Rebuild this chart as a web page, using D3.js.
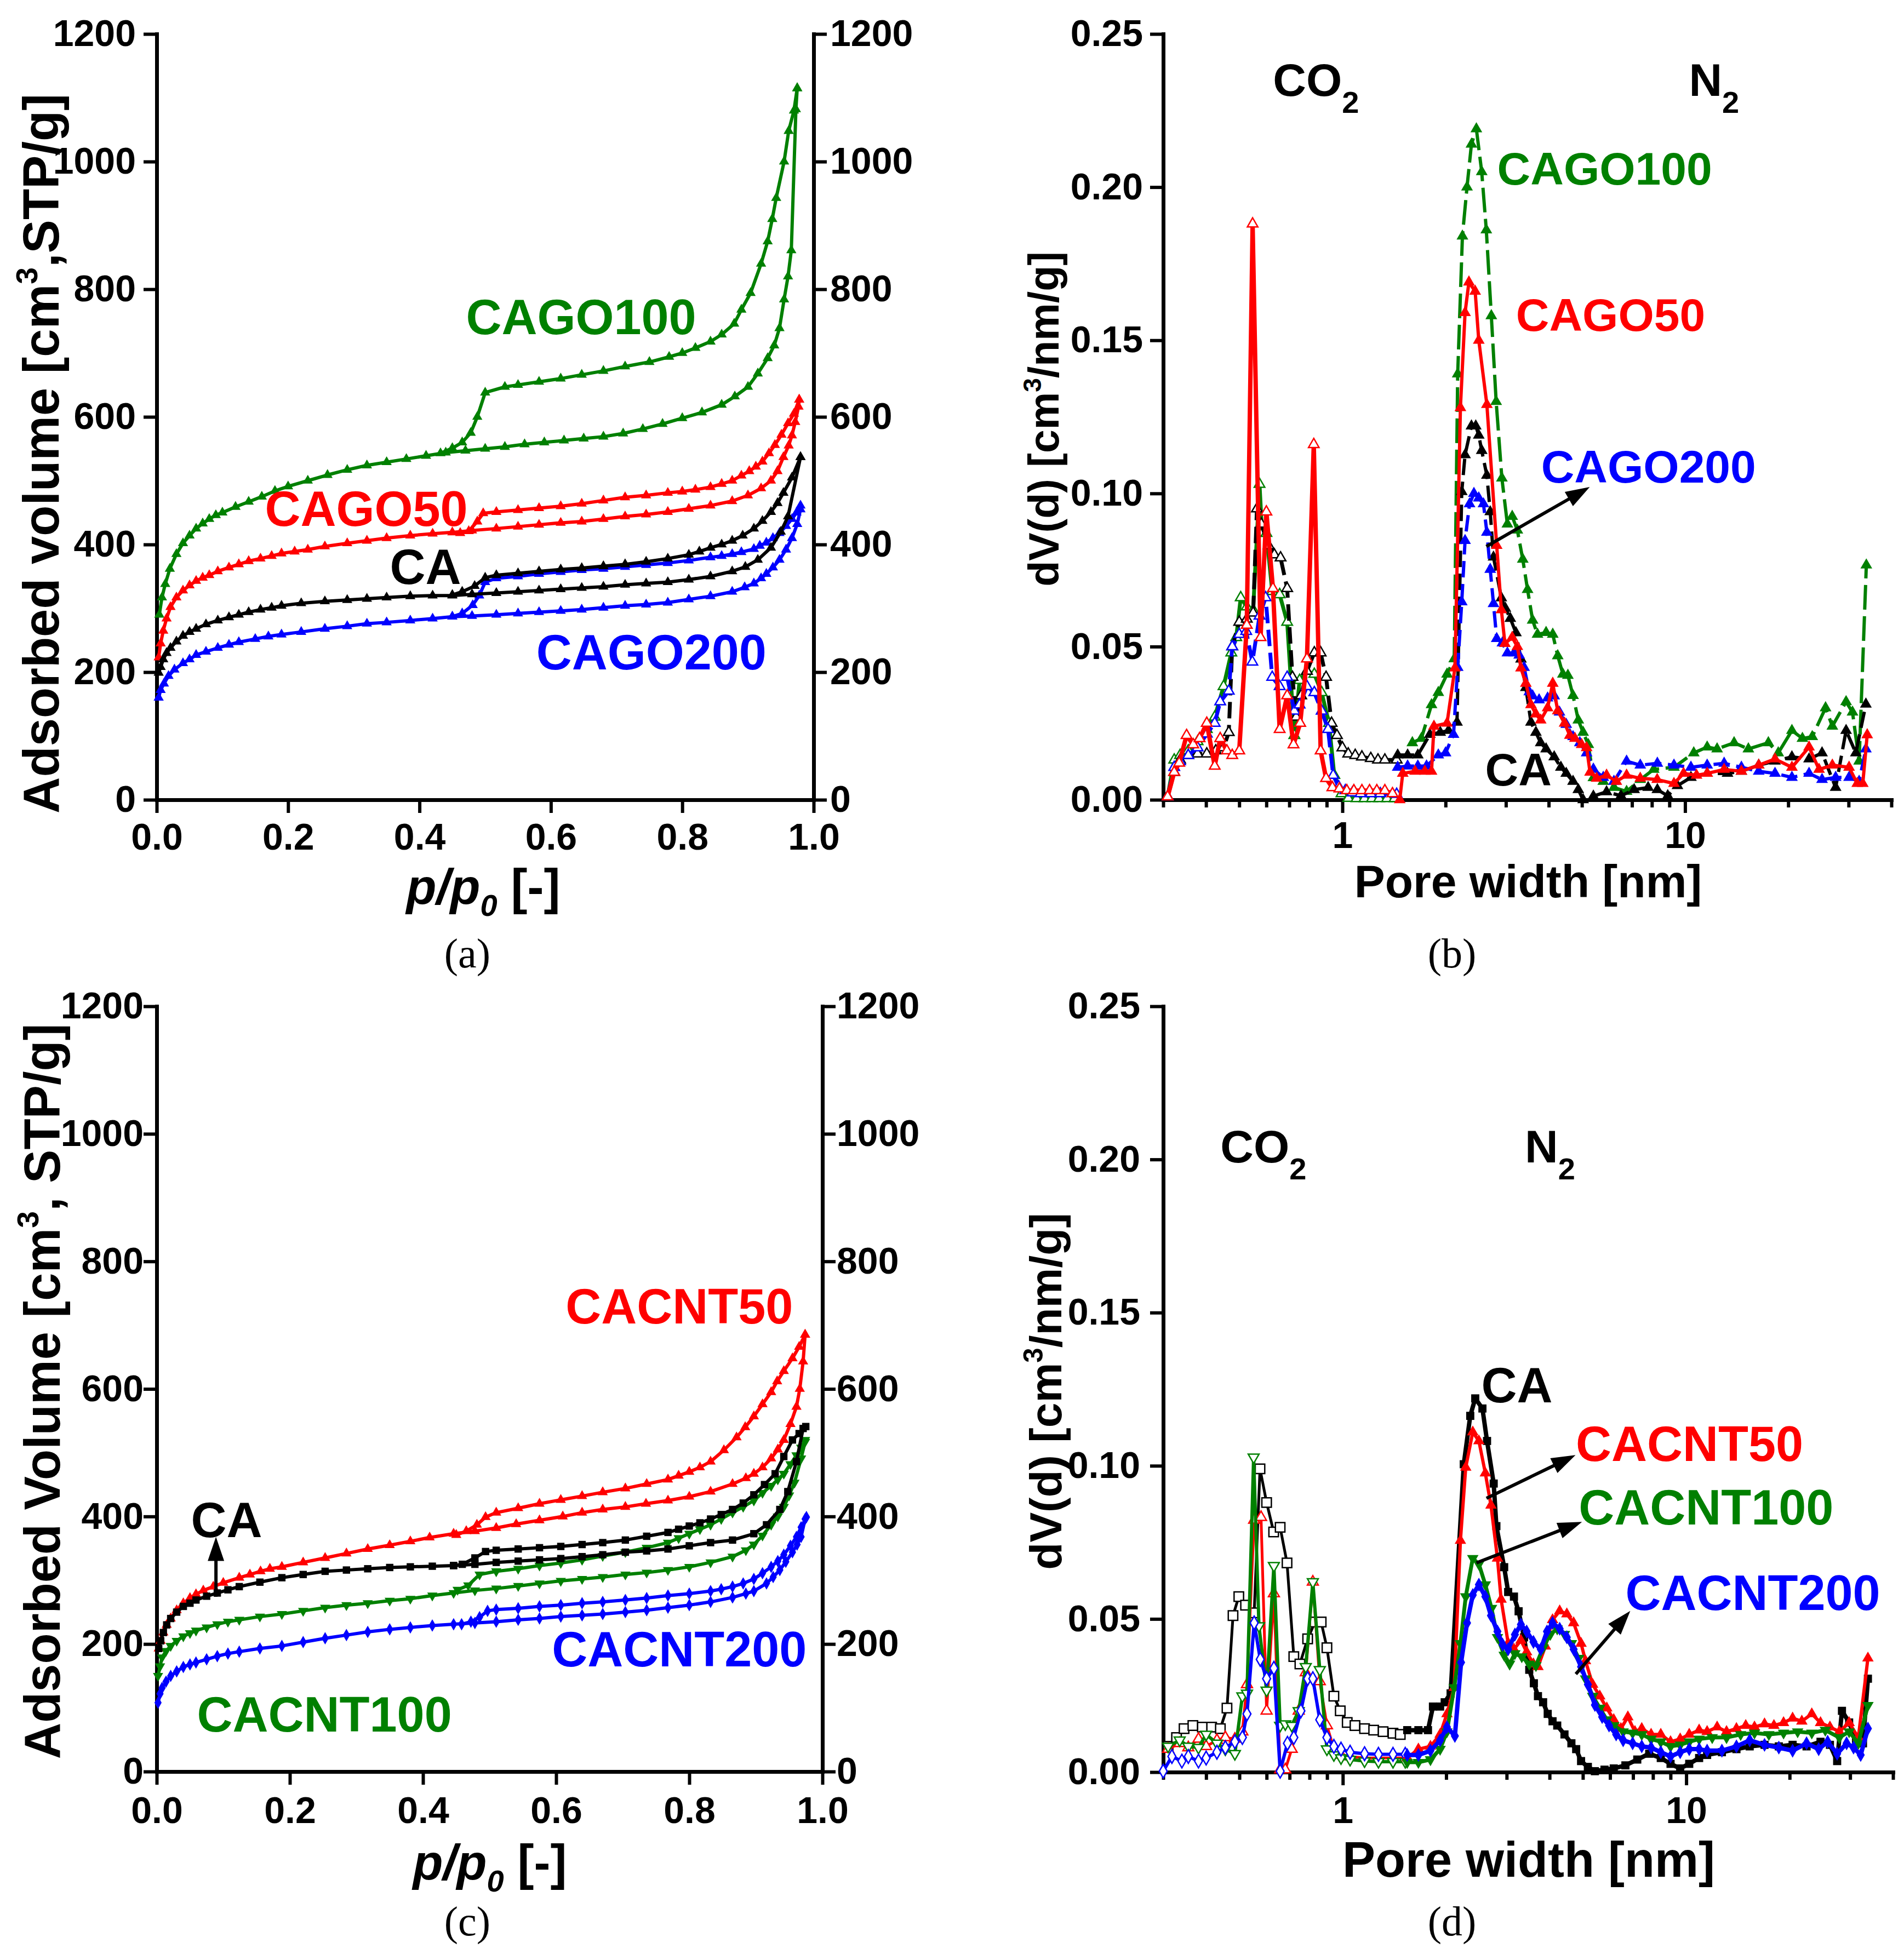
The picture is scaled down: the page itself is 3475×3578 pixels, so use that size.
<!DOCTYPE html>
<html>
<head>
<meta charset="utf-8">
<script src="https://cdn.jsdelivr.net/npm/d3@7"></script>
<style>
html, body { margin: 0; padding: 0; background: #fff; }
svg { display: block; }
</style>
</head>
<body>
<svg id="fig"></svg>
<script>
// ---------- (a) N2 isotherms, CA / CAGO : [p/p0, V] ----------
const aCA_ads = [[0.003,199],[0.006,208],[0.01,220],[0.015,230],[0.021,238],[0.03,248],[0.04,257],[0.05,263],[0.06,268],[0.075,275],[0.093,281],[0.11,286],[0.125,290],[0.14,294],[0.158,298],[0.175,301],[0.19,304],[0.22,308],[0.256,311],[0.29,313],[0.32,315],[0.35,317],[0.386,319],[0.42,320],[0.45,320],[0.48,322],[0.517,324],[0.55,326],[0.582,328],[0.615,330],[0.647,332],[0.68,334],[0.713,337],[0.745,339],[0.778,341],[0.81,345],[0.843,350],[0.876,358],[0.896,365],[0.915,376],[0.935,395],[0.95,420],[0.961,444],[0.98,537]];
const aCA_des = [[0.98,537],[0.967,505],[0.954,481],[0.945,465],[0.935,451],[0.922,437],[0.909,425],[0.892,414],[0.876,406],[0.86,400],[0.843,395],[0.826,389],[0.81,384],[0.778,378],[0.745,373],[0.713,369],[0.68,366],[0.647,363],[0.615,361],[0.582,358],[0.55,355],[0.517,352],[0.5,348],[0.484,335],[0.465,326],[0.45,321]];
const aGO50_ads = [[0.003,223],[0.006,245],[0.01,265],[0.015,284],[0.021,302],[0.03,317],[0.04,328],[0.05,336],[0.06,343],[0.07,348],[0.08,352],[0.093,358],[0.11,364],[0.125,369],[0.14,374],[0.158,378],[0.175,382],[0.19,386],[0.21,389],[0.23,392],[0.256,397],[0.29,402],[0.32,406],[0.35,410],[0.386,414],[0.42,417],[0.45,419],[0.48,422],[0.517,425],[0.55,428],[0.582,431],[0.615,434],[0.647,436],[0.68,440],[0.713,444],[0.745,447],[0.778,451],[0.81,456],[0.843,461],[0.876,468],[0.9,477],[0.92,488],[0.935,500],[0.945,515],[0.954,537],[0.962,555],[0.967,571],[0.972,592],[0.977,616],[0.978,627]];
const aGO50_des = [[0.978,627],[0.97,605],[0.961,590],[0.951,572],[0.941,556],[0.932,543],[0.922,530],[0.912,522],[0.902,515],[0.89,508],[0.876,500],[0.86,495],[0.843,490],[0.82,486],[0.8,483],[0.778,481],[0.745,477],[0.713,474],[0.68,469],[0.647,464],[0.615,460],[0.582,457],[0.55,454],[0.517,451],[0.497,449],[0.488,436],[0.475,421],[0.462,418]];
const aGO100_ads = [[0.004,290],[0.008,317],[0.013,338],[0.02,362],[0.03,385],[0.04,402],[0.05,414],[0.06,425],[0.07,433],[0.08,440],[0.09,446],[0.1,450],[0.12,459],[0.14,467],[0.16,475],[0.18,484],[0.2,491],[0.23,500],[0.26,509],[0.29,517],[0.32,524],[0.35,529],[0.38,534],[0.41,539],[0.44,544],[0.47,547],[0.5,550],[0.53,553],[0.56,557],[0.59,560],[0.62,563],[0.65,566],[0.68,569],[0.71,574],[0.74,581],[0.77,589],[0.8,598],[0.83,607],[0.86,619],[0.88,632],[0.9,647],[0.915,668],[0.93,692],[0.94,712],[0.948,739],[0.955,784],[0.961,820],[0.966,861],[0.973,1082],[0.975,1115]];
const aGO100_des = [[0.975,1115],[0.97,1080],[0.962,1048],[0.955,1000],[0.943,943],[0.937,910],[0.93,875],[0.92,840],[0.904,794],[0.89,768],[0.879,746],[0.86,729],[0.843,718],[0.82,708],[0.8,700],[0.78,694],[0.75,686],[0.713,679],[0.68,672],[0.647,666],[0.615,660],[0.582,655],[0.55,650],[0.53,647],[0.5,638],[0.488,600],[0.478,575],[0.465,560],[0.45,551],[0.432,543]];
const aGO200_ads = [[0.003,160],[0.006,172],[0.011,182],[0.018,194],[0.027,204],[0.04,214],[0.05,220],[0.06,227],[0.075,232],[0.093,238],[0.11,243],[0.125,247],[0.15,252],[0.17,256],[0.19,259],[0.22,263],[0.256,268],[0.29,272],[0.32,276],[0.35,278],[0.386,281],[0.42,284],[0.45,287],[0.48,288],[0.517,290],[0.55,292],[0.582,294],[0.615,296],[0.647,298],[0.68,301],[0.713,304],[0.745,306],[0.778,309],[0.81,314],[0.843,319],[0.876,326],[0.895,333],[0.909,339],[0.92,347],[0.928,354],[0.938,364],[0.948,376],[0.958,392],[0.967,410],[0.975,432],[0.98,455]];
const aGO200_des = [[0.98,461],[0.974,450],[0.967,440],[0.958,429],[0.948,418],[0.938,410],[0.928,403],[0.918,398],[0.909,393],[0.89,388],[0.876,385],[0.86,382],[0.843,380],[0.81,375],[0.778,371],[0.745,368],[0.713,365],[0.68,362],[0.647,360],[0.615,357],[0.582,354],[0.55,350],[0.517,347],[0.5,341],[0.491,320],[0.481,305],[0.465,292],[0.45,287]];

// ---------- (c) N2 isotherms, CA / CACNT : [p/p0, V] ----------
const cCA_ads = [[0.003,193],[0.006,205],[0.01,218],[0.015,230],[0.021,240],[0.03,250],[0.04,259],[0.05,264],[0.059,269],[0.075,275],[0.091,280],[0.107,285],[0.124,290],[0.155,297],[0.188,304],[0.22,309],[0.253,314],[0.285,316],[0.317,318],[0.35,320],[0.381,321],[0.414,322],[0.446,323],[0.478,325],[0.51,328],[0.543,330],[0.575,332],[0.607,334],[0.639,337],[0.67,340],[0.704,344],[0.736,346],[0.768,349],[0.8,354],[0.832,359],[0.865,363],[0.897,373],[0.916,387],[0.936,411],[0.948,439],[0.961,486],[0.971,538]];
const cCA_des = [[0.975,541],[0.965,530],[0.955,520],[0.942,494],[0.929,467],[0.913,450],[0.897,434],[0.881,421],[0.865,411],[0.848,403],[0.832,396],[0.816,390],[0.8,385],[0.784,380],[0.768,375],[0.736,369],[0.704,363],[0.67,359],[0.639,356],[0.607,353],[0.575,351],[0.543,349],[0.51,347],[0.494,345],[0.478,335],[0.459,325],[0.446,323]];
const cCNT50_ads = [[0.003,193],[0.006,205],[0.01,218],[0.015,230],[0.021,240],[0.03,253],[0.04,264],[0.05,272],[0.059,278],[0.07,284],[0.085,290],[0.1,296],[0.124,304],[0.14,309],[0.156,314],[0.17,318],[0.188,321],[0.22,328],[0.253,335],[0.285,342],[0.317,349],[0.35,355],[0.381,361],[0.41,367],[0.446,373],[0.478,377],[0.51,382],[0.54,388],[0.575,394],[0.61,400],[0.639,406],[0.67,411],[0.704,415],[0.735,420],[0.768,425],[0.8,431],[0.832,439],[0.865,451],[0.885,460],[0.897,467],[0.91,477],[0.923,491],[0.933,505],[0.942,520],[0.952,545],[0.961,572],[0.966,600],[0.971,643],[0.974,685]];
const cCNT50_des = [[0.974,685],[0.965,666],[0.955,648],[0.942,628],[0.932,612],[0.923,595],[0.91,576],[0.897,557],[0.884,540],[0.871,524],[0.852,504],[0.832,486],[0.816,477],[0.8,470],[0.784,464],[0.768,458],[0.736,451],[0.704,444],[0.67,438],[0.639,432],[0.607,426],[0.575,420],[0.543,413],[0.51,406],[0.494,399],[0.481,387],[0.465,377],[0.45,371]];
const cCNT100_ads = [[0.002,150],[0.005,165],[0.008,179],[0.014,189],[0.021,197],[0.03,205],[0.04,212],[0.05,217],[0.059,221],[0.075,226],[0.091,231],[0.107,235],[0.124,238],[0.155,243],[0.188,247],[0.22,252],[0.253,257],[0.285,261],[0.317,264],[0.35,268],[0.381,271],[0.414,276],[0.446,280],[0.478,284],[0.51,287],[0.543,291],[0.575,295],[0.607,299],[0.639,302],[0.67,305],[0.704,309],[0.736,312],[0.768,316],[0.8,321],[0.832,328],[0.865,337],[0.885,347],[0.897,356],[0.91,370],[0.923,387],[0.933,400],[0.942,415],[0.95,433],[0.958,453],[0.968,491],[0.974,517]];
const cCNT100_des = [[0.974,520],[0.968,508],[0.961,496],[0.952,482],[0.942,467],[0.933,458],[0.923,448],[0.91,437],[0.897,425],[0.881,415],[0.865,406],[0.848,396],[0.832,387],[0.816,380],[0.8,373],[0.784,366],[0.768,359],[0.736,351],[0.704,344],[0.67,338],[0.639,332],[0.607,327],[0.575,323],[0.543,318],[0.51,314],[0.485,309],[0.468,292],[0.452,285]];
const cCNT200_ads = [[0.002,108],[0.005,122],[0.008,131],[0.014,141],[0.021,150],[0.03,157],[0.04,164],[0.05,168],[0.059,171],[0.075,176],[0.091,181],[0.107,185],[0.124,188],[0.155,193],[0.188,197],[0.22,203],[0.253,209],[0.285,214],[0.317,219],[0.35,223],[0.381,226],[0.414,229],[0.446,231],[0.478,233],[0.51,235],[0.543,238],[0.575,240],[0.607,243],[0.639,245],[0.67,247],[0.704,250],[0.736,253],[0.768,257],[0.8,261],[0.832,266],[0.865,273],[0.885,279],[0.897,283],[0.916,295],[0.926,305],[0.936,316],[0.945,329],[0.955,344],[0.962,356],[0.968,368],[0.974,396]];
const cCNT200_des = [[0.976,399],[0.968,383],[0.961,368],[0.952,354],[0.942,340],[0.933,330],[0.923,321],[0.91,311],[0.897,302],[0.881,295],[0.865,290],[0.848,286],[0.832,283],[0.8,279],[0.768,276],[0.736,272],[0.704,269],[0.67,266],[0.639,264],[0.607,261],[0.575,259],[0.543,256],[0.51,254],[0.497,252],[0.485,242],[0.472,235],[0.458,231]];

// ---------- (b) PSD, CA / CAGO : [pore width nm, dV(d)] ----------
const bCA_co2 = [[0.309,0.001],[0.323,0.009],[0.336,0.013],[0.355,0.0145],[0.378,0.015],[0.402,0.015],[0.427,0.016],[0.45,0.017],[0.466,0.022],[0.477,0.05],[0.5,0.058],[0.526,0.059],[0.549,0.061],[0.563,0.095],[0.58,0.09],[0.609,0.083],[0.633,0.08],[0.66,0.079],[0.69,0.069],[0.715,0.04],[0.733,0.027],[0.758,0.034],[0.788,0.042],[0.828,0.048],[0.864,0.048],[0.896,0.04],[0.93,0.025],[0.964,0.021],[1.0,0.017],[1.04,0.015],[1.09,0.0145],[1.14,0.014],[1.21,0.0135],[1.27,0.013],[1.33,0.013],[1.44,0.013]];
const bCA_n2 = [[1.45,0.0146],[1.55,0.0146],[1.66,0.0146],[1.8,0.0213],[1.93,0.022],[2.04,0.0226],[2.16,0.0253],[2.23,0.1006],[2.28,0.1126],[2.38,0.122],[2.45,0.122],[2.5,0.119],[2.55,0.114],[2.64,0.1059],[2.7,0.094],[2.76,0.0792],[2.91,0.0659],[2.99,0.0625],[3.09,0.0592],[3.21,0.0545],[3.32,0.0459],[3.43,0.0366],[3.55,0.0253],[3.67,0.022],[3.79,0.0186],[3.93,0.0166],[4.15,0.014],[4.34,0.0106],[4.5,0.0086],[4.71,0.006],[4.88,0.0033],[5.04,0.0],[5.4,0.0012],[5.9,0.0026],[6.5,0.0013],[7.1,0.0033],[7.8,0.004],[8.3,0.0033],[8.9,0.0013],[9.5,0.0046],[10.4,0.0073],[11.6,0.0086],[13.3,0.0086],[14.6,0.0093],[16.4,0.0113],[18.3,0.0126],[20.5,0.014],[23.0,0.0133],[25.1,0.0153],[27.5,0.004],[29.5,0.0226],[31.5,0.0153],[33.7,0.0312]];
const bGO50_co2 = [[0.309,0.001],[0.323,0.009],[0.334,0.012],[0.351,0.021],[0.367,0.018],[0.383,0.02],[0.402,0.025],[0.424,0.011],[0.44,0.02],[0.46,0.016],[0.477,0.0145],[0.5,0.016],[0.526,0.057],[0.547,0.188],[0.577,0.053],[0.6,0.094],[0.627,0.069],[0.656,0.023],[0.69,0.034],[0.72,0.018],[0.753,0.025],[0.788,0.046],[0.825,0.116],[0.864,0.016],[0.896,0.007],[0.935,0.004],[0.98,0.0036],[1.03,0.003],[1.08,0.003],[1.14,0.003],[1.2,0.003],[1.26,0.003],[1.33,0.003],[1.4,0.002]];
const bGO50_n2 = [[1.47,0.0],[1.5,0.0086],[1.63,0.0093],[1.74,0.0093],[1.82,0.0093],[1.85,0.024],[2.02,0.025],[2.13,0.043],[2.21,0.128],[2.28,0.159],[2.34,0.169],[2.44,0.166],[2.5,0.15],[2.64,0.129],[2.82,0.083],[2.91,0.062],[2.98,0.051],[3.13,0.053],[3.24,0.05],[3.32,0.043],[3.43,0.038],[3.55,0.031],[3.67,0.028],[3.79,0.026],[3.97,0.03],[4.11,0.038],[4.25,0.029],[4.45,0.025],[4.61,0.021],[4.77,0.02],[4.99,0.018],[5.16,0.017],[5.28,0.009],[5.52,0.007],[5.9,0.008],[6.3,0.006],[6.75,0.008],[7.4,0.007],[8.29,0.0066],[9.28,0.0053],[9.9,0.0086],[10.8,0.008],[11.6,0.0086],[13.0,0.0099],[14.6,0.0093],[16.4,0.0113],[18.3,0.0133],[20.5,0.0106],[23.0,0.0172],[24.6,0.0099],[26.9,0.0113],[30.1,0.0106],[31.8,0.0053],[33.0,0.0053],[34.0,0.0212]];
const bGO100_co2 = [[0.309,0.001],[0.323,0.013],[0.336,0.0145],[0.355,0.016],[0.378,0.019],[0.402,0.023],[0.424,0.027],[0.45,0.037],[0.474,0.048],[0.49,0.053],[0.505,0.066],[0.526,0.063],[0.549,0.062],[0.573,0.103],[0.583,0.087],[0.6,0.087],[0.624,0.068],[0.656,0.067],[0.69,0.058],[0.724,0.021],[0.75,0.039],[0.788,0.042],[0.828,0.041],[0.87,0.035],[0.914,0.025],[0.947,0.008],[0.994,0.002],[1.04,0.0005],[1.1,0.0004],[1.16,0.0004],[1.22,0.0004],[1.28,0.0004],[1.35,0.0004],[1.42,0.0004]];
const bGO100_n2 = [[1.6,0.0186],[1.7,0.02],[1.82,0.031],[1.905,0.035],[2.02,0.041],[2.12,0.046],[2.17,0.139],[2.24,0.184],[2.31,0.2],[2.38,0.214],[2.46,0.219],[2.55,0.205],[2.63,0.186],[2.72,0.158],[2.81,0.13],[2.92,0.105],[3.03,0.09],[3.13,0.0925],[3.24,0.088],[3.36,0.0785],[3.47,0.0686],[3.59,0.0586],[3.71,0.054],[3.93,0.0546],[4.11,0.054],[4.25,0.047],[4.4,0.041],[4.55,0.0406],[4.71,0.034],[4.88,0.026],[5.04,0.022],[5.22,0.018],[5.4,0.0072],[5.77,0.006],[6.2,0.004],[6.75,0.0027],[7.4,0.0066],[8.1,0.0099],[9.28,0.0106],[10.6,0.0153],[11.6,0.0172],[12.4,0.0166],[13.9,0.0186],[15.3,0.0166],[17.5,0.0186],[18.7,0.0153],[20.5,0.0226],[22.0,0.02],[23.5,0.0206],[25.7,0.03],[26.9,0.024],[29.5,0.032],[30.8,0.0286],[32.2,0.0126],[33.8,0.0766]];
const bGO200_co2 = [[0.309,0.001],[0.323,0.0106],[0.336,0.0125],[0.355,0.0145],[0.378,0.017],[0.402,0.0215],[0.424,0.025],[0.44,0.032],[0.466,0.0355],[0.477,0.05],[0.5,0.054],[0.524,0.055],[0.546,0.045],[0.573,0.06],[0.597,0.066],[0.624,0.04],[0.656,0.037],[0.69,0.04],[0.724,0.029],[0.75,0.031],[0.788,0.037],[0.828,0.035],[0.87,0.029],[0.908,0.023],[0.94,0.008],[0.975,0.0043],[1.02,0.003],[1.07,0.0023],[1.13,0.002],[1.21,0.002],[1.29,0.002],[1.44,0.0018]];
const bGO200_n2 = [[1.45,0.0106],[1.55,0.011],[1.66,0.011],[1.76,0.011],[1.905,0.0146],[2.0,0.0153],[2.11,0.0213],[2.17,0.0432],[2.23,0.0646],[2.28,0.0846],[2.35,0.0966],[2.42,0.1],[2.5,0.0985],[2.58,0.0966],[2.64,0.0873],[2.7,0.0752],[2.76,0.064],[2.82,0.0526],[2.93,0.0512],[3.03,0.0479],[3.17,0.0479],[3.28,0.0472],[3.39,0.0432],[3.51,0.0352],[3.59,0.0339],[3.75,0.0326],[3.97,0.0332],[4.15,0.0339],[4.3,0.0286],[4.5,0.0246],[4.71,0.0206],[4.93,0.0186],[5.16,0.0153],[5.4,0.01],[5.77,0.0073],[6.2,0.006],[6.75,0.0126],[7.4,0.0113],[8.3,0.0119],[9.28,0.0113],[10.4,0.0106],[11.6,0.0113],[13.0,0.0119],[14.6,0.0106],[16.4,0.0093],[18.3,0.0086],[20.5,0.0073],[23.0,0.0086],[25.1,0.0066],[27.5,0.0073],[30.1,0.0073],[32.2,0.006],[33.7,0.0166]];

// ---------- (d) PSD, CA / CACNT : [pore width nm, dV(d)] ----------
const dCA_co2 = [[0.31,0.0084],[0.328,0.0113],[0.345,0.0142],[0.366,0.0152],[0.39,0.0147],[0.415,0.0147],[0.44,0.0142],[0.46,0.0209],[0.479,0.0511],[0.498,0.0573],[0.521,0.0545],[0.552,0.052],[0.574,0.099],[0.6,0.088],[0.629,0.0784],[0.657,0.0799],[0.688,0.0683],[0.72,0.0377],[0.75,0.0353],[0.79,0.0435],[0.83,0.049],[0.865,0.049],[0.899,0.0406],[0.942,0.0248],[0.983,0.02],[1.03,0.0162],[1.085,0.0152],[1.157,0.0142],[1.23,0.0137],[1.31,0.0132],[1.4,0.0127],[1.47,0.0123]];
const dCA_n2 = [[1.54,0.0137],[1.66,0.0137],[1.77,0.0137],[1.83,0.0214],[1.92,0.0214],[1.98,0.0228],[2.06,0.0257],[2.25,0.1005],[2.35,0.1163],[2.43,0.122],[2.55,0.1187],[2.63,0.1081],[2.75,0.0942],[2.8,0.0803],[2.95,0.0669],[3.03,0.0588],[3.15,0.0573],[3.25,0.0525],[3.37,0.044],[3.49,0.0334],[3.6,0.029],[3.7,0.0248],[3.83,0.0228],[3.95,0.019],[4.08,0.0166],[4.21,0.0152],[4.42,0.0123],[4.63,0.0094],[4.78,0.0075],[4.94,0.0036],[5.17,0.0017],[5.42,0.0003],[5.78,0.0008],[6.15,0.0012],[6.65,0.0022],[7.2,0.0041],[7.8,0.006],[8.43,0.0046],[9.0,0.0027],[9.6,0.0012],[10.2,0.0027],[10.9,0.0046],[11.5,0.0056],[12.7,0.0065],[14.0,0.0075],[15.3,0.0084],[16.9,0.0089],[18.6,0.0084],[20.4,0.0089],[22.4,0.0084],[24.6,0.0099],[26.2,0.0089],[27.5,0.0036],[28.4,0.02],[29.8,0.0162],[31.2,0.0104],[32.7,0.0094],[33.8,0.0305]];
const dCNT50_co2 = [[0.31,0.0075],[0.335,0.0094],[0.355,0.008],[0.38,0.0108],[0.4,0.0084],[0.43,0.0104],[0.455,0.0113],[0.485,0.0108],[0.51,0.0132],[0.526,0.0286],[0.552,0.0823],[0.578,0.0832],[0.6,0.02],[0.63,0.0583],[0.657,0.0008],[0.68,0.0008],[0.71,0.0075],[0.744,0.02],[0.78,0.0325],[0.818,0.0621],[0.857,0.0296],[0.899,0.0152],[0.942,0.0075],[0.988,0.0056],[1.05,0.0051],[1.157,0.0046],[1.27,0.0046],[1.4,0.0046],[1.52,0.0046]];
const dCNT50_n2 = [[1.54,0.0046],[1.66,0.0075],[1.8,0.0084],[1.92,0.0123],[2.01,0.019],[2.11,0.0276],[2.2,0.0756],[2.28,0.0995],[2.39,0.111],[2.49,0.1081],[2.6,0.0976],[2.7,0.0871],[2.82,0.0698],[2.89,0.0564],[3.03,0.0421],[3.15,0.0401],[3.3,0.043],[3.43,0.0392],[3.59,0.0353],[3.7,0.0344],[3.89,0.0411],[4.08,0.0497],[4.28,0.0526],[4.49,0.0516],[4.7,0.0487],[4.94,0.042],[5.09,0.0363],[5.34,0.0286],[5.6,0.0248],[5.87,0.0209],[6.15,0.0171],[6.45,0.0142],[6.76,0.018],[7.09,0.0132],[7.42,0.0142],[7.9,0.0123],[8.43,0.0123],[9.0,0.0099],[9.6,0.0108],[10.2,0.0123],[10.9,0.0137],[11.5,0.0132],[12.3,0.0147],[13.1,0.0132],[14.0,0.0142],[14.9,0.0152],[15.8,0.0147],[16.9,0.0157],[18.0,0.0152],[19.2,0.0161],[20.4,0.0176],[21.7,0.0166],[23.2,0.019],[24.6,0.0161],[26.2,0.0147],[27.9,0.0132],[29.8,0.0161],[31.7,0.0113],[33.8,0.0372]];
const dCNT100_co2 = [[0.31,0.0084],[0.335,0.0104],[0.355,0.0084],[0.38,0.008],[0.4,0.0123],[0.43,0.0094],[0.455,0.0075],[0.485,0.006],[0.51,0.0248],[0.526,0.0257],[0.55,0.1028],[0.57,0.0477],[0.6,0.0267],[0.63,0.0674],[0.657,0.0152],[0.68,0.0157],[0.71,0.0152],[0.744,0.02],[0.78,0.0344],[0.818,0.0621],[0.857,0.0334],[0.899,0.0075],[0.942,0.0056],[0.988,0.0046],[1.05,0.0041],[1.157,0.0036],[1.27,0.0034],[1.4,0.0034],[1.52,0.0034]];
const dCNT100_n2 = [[1.54,0.0032],[1.66,0.0032],[1.8,0.0041],[1.92,0.0075],[2.01,0.0132],[2.11,0.0276],[2.2,0.042],[2.28,0.0573],[2.39,0.0698],[2.49,0.0679],[2.6,0.0612],[2.71,0.0535],[2.82,0.044],[2.95,0.0382],[3.06,0.0353],[3.17,0.0387],[3.32,0.0377],[3.49,0.0353],[3.65,0.0348],[3.83,0.0406],[4.02,0.045],[4.21,0.0468],[4.42,0.045],[4.63,0.042],[4.86,0.0372],[5.09,0.0305],[5.34,0.0248],[5.6,0.0209],[5.87,0.0171],[6.15,0.0152],[6.55,0.0132],[6.98,0.0128],[7.42,0.0123],[7.9,0.0108],[8.43,0.0099],[9.0,0.0084],[9.6,0.0089],[10.2,0.0099],[10.9,0.0108],[11.9,0.0113],[13.1,0.0113],[14.4,0.0123],[15.8,0.0128],[17.4,0.0123],[19.2,0.0128],[21.1,0.0132],[23.2,0.0128],[25.4,0.0137],[27.9,0.0113],[29.8,0.0132],[31.7,0.0094],[33.8,0.0218]];
const dCNT200_co2 = [[0.3,0.0003],[0.318,0.0051],[0.34,0.0036],[0.355,0.0051],[0.38,0.0036],[0.4,0.0046],[0.43,0.0065],[0.455,0.008],[0.485,0.0099],[0.51,0.0113],[0.526,0.019],[0.552,0.0487],[0.575,0.0368],[0.6,0.0305],[0.63,0.0339],[0.657,0.0003],[0.69,0.0094],[0.72,0.0113],[0.755,0.02],[0.79,0.0305],[0.818,0.0305],[0.857,0.0171],[0.899,0.0113],[0.942,0.0084],[0.988,0.0075],[1.05,0.0065],[1.157,0.006],[1.27,0.0058],[1.4,0.0058],[1.52,0.0058]];
const dCNT200_n2 = [[1.54,0.0056],[1.66,0.0056],[1.8,0.007],[1.92,0.0104],[2.01,0.0147],[2.12,0.0118],[2.21,0.0358],[2.3,0.0487],[2.39,0.0578],[2.49,0.0612],[2.6,0.0573],[2.7,0.0511],[2.82,0.0459],[2.92,0.0416],[3.03,0.0401],[3.17,0.0449],[3.3,0.0482],[3.43,0.0459],[3.59,0.0425],[3.77,0.0401],[3.93,0.0459],[4.08,0.0487],[4.28,0.0468],[4.49,0.044],[4.7,0.0401],[4.94,0.0344],[5.17,0.0286],[5.42,0.0219],[5.69,0.018],[5.96,0.0152],[6.25,0.0123],[6.55,0.0104],[6.98,0.0094],[7.42,0.0084],[7.9,0.008],[8.43,0.0065],[9.0,0.0051],[9.6,0.0065],[10.2,0.0075],[10.9,0.0075],[11.5,0.007],[12.7,0.007],[14.0,0.0084],[15.3,0.0104],[16.9,0.0089],[18.6,0.008],[20.4,0.007],[22.4,0.0094],[24.3,0.0075],[25.8,0.0099],[27.5,0.006],[29.3,0.0094],[30.7,0.008],[32.2,0.0056],[33.8,0.0142]];

// ---------- ticks ----------
const isoXTicks = [0, 0.2, 0.4, 0.6, 0.8, 1.0];
const isoYTicks = [0, 200, 400, 600, 800, 1000, 1200];
const psdYTicks = [0, 0.05, 0.10, 0.15, 0.20, 0.25];
const psdMajor = [1, 10];
const psdMinor = [0.3, 0.4, 0.5, 0.6, 0.7, 0.8, 0.9, 2, 3, 4, 5, 6, 7, 8, 9, 20, 30, 40];

// ---------- drawing ----------
const W = 3475, H = 3578;
const FONT = '"Liberation Sans", Arial, Helvetica, sans-serif';
const SERIF = '"Liberation Serif", "Times New Roman", serif';
const GREEN = "#008000", RED = "#ff0000", BLUE = "#0000ff", BLACK = "#000000";

const svg = d3.select("#fig").attr("width", W).attr("height", H)
  .attr("viewBox", `0 0 ${W} ${H}`);
svg.append("rect").attr("width", W).attr("height", H).attr("fill", "#fff");

const boxA = {l: 286, r: 1485, t: 62, b: 1460};
const boxB = {l: 2123, r: 3452, t: 62, b: 1460};
const boxC = {l: 286, r: 1501, t: 1837, b: 3234};
const boxD = {l: 2123, r: 3455, t: 1837, b: 3235};

function addAxis(g, axis, transform, fs) {
  const ax = g.append("g").attr("transform", transform).call(axis);
  ax.attr("font-family", FONT).attr("font-size", fs).attr("font-weight", "bold");
  ax.select(".domain").attr("stroke-width", 7).attr("stroke-linecap", "square");
  ax.selectAll(".tick line").attr("stroke-width", 6);
  ax.selectAll(".tick text").attr("fill", "#000");
  return ax;
}

function drawSeries(g, x, y, data, st) {
  const line = d3.line().x(d => x(d[0])).y(d => y(d[1]));
  g.append("path").datum(data)
    .attr("fill", "none")
    .attr("stroke", st.color)
    .attr("stroke-width", st.lw)
    .attr("stroke-dasharray", st.dash || null)
    .attr("stroke-linejoin", "round")
    .attr("d", line);
  const sym = d3.symbol().type(st.shape).size(st.size);
  g.append("g").selectAll("path").data(data).join("path")
    .attr("transform", d => `translate(${x(d[0])},${y(d[1])})` + (st.flip ? " rotate(180)" : ""))
    .attr("d", sym)
    .attr("fill", st.open ? "#fff" : st.color)
    .attr("stroke", st.open ? st.color : "none")
    .attr("stroke-width", st.open ? 2.5 : 0);
}

function arrow(g, x1, y1, x2, y2) {
  const L = Math.hypot(x2 - x1, y2 - y1);
  const ux = (x2 - x1) / L, uy = (y2 - y1) / L;
  const hl = 44, hw = 30;
  const bx = x2 - ux * hl, by = y2 - uy * hl;
  g.append("line").attr("x1", x1).attr("y1", y1).attr("x2", bx + ux * 4).attr("y2", by + uy * 4)
    .attr("stroke", "#000").attr("stroke-width", 6);
  g.append("path")
    .attr("d", `M${x2},${y2}L${bx - uy * hw / 2},${by + ux * hw / 2}L${bx + uy * hw / 2},${by - ux * hw / 2}Z`)
    .attr("fill", "#000");
}

function textLabel(g, x, y, str, color, fs, anchor) {
  g.append("text").attr("x", x).attr("y", y)
    .attr("font-family", FONT).attr("font-weight", "bold")
    .attr("font-size", fs).attr("fill", color)
    .attr("text-anchor", anchor).text(str);
}

function gasLabel(g, x, y, main, sub, fs) {
  const t = g.append("text").attr("x", x).attr("y", y)
    .attr("font-family", FONT).attr("font-weight", "bold").attr("font-size", fs);
  t.append("tspan").text(main);
  t.append("tspan").attr("dy", 31).attr("font-size", 56).text(sub);
}

function yTitle(g, cx, cy, fs, before, after) {
  const t = g.append("text")
    .attr("transform", `translate(${cx},${cy}) rotate(-90)`)
    .attr("text-anchor", "middle")
    .attr("font-family", FONT).attr("font-weight", "bold").attr("font-size", fs);
  t.append("tspan").text(before);
  t.append("tspan").attr("dy", -fs * 0.42).attr("font-size", fs * 0.6).text("3");
  t.append("tspan").attr("dy", fs * 0.42).text(after);
}

function pTitle(g, cx, by) {
  const t = g.append("text").attr("x", cx).attr("y", by)
    .attr("text-anchor", "middle")
    .attr("font-family", FONT).attr("font-weight", "bold").attr("font-size", 90);
  t.append("tspan").attr("font-style", "italic").text("p/p");
  t.append("tspan").attr("font-style", "italic").attr("font-size", 56).attr("dy", 22).text("0");
  t.append("tspan").attr("dy", -22).text(" [-]");
}

function caption(cx, by, s) {
  svg.append("text").attr("x", cx).attr("y", by).attr("text-anchor", "middle")
    .attr("font-family", SERIF).attr("font-size", 76).text(s);
}

// ---- isotherm panel ----
function isoPanel(box, series, labels, opts) {
  const g = svg.append("g");
  const x = d3.scaleLinear().domain([0, 1]).range([box.l, box.r]);
  const y = d3.scaleLinear().domain([0, 1200]).range([box.b, box.t]);
  addAxis(g, d3.axisBottom(x).tickValues(isoXTicks).tickFormat(d3.format(".1f"))
    .tickSize(24).tickSizeOuter(0).tickPadding(opts.xPad), `translate(0,${box.b})`, 68);
  addAxis(g, d3.axisLeft(y).tickValues(isoYTicks).tickFormat(d3.format("d"))
    .tickSize(24).tickSizeOuter(0).tickPadding(opts.lPad), `translate(${box.l},0)`, 68);
  addAxis(g, d3.axisRight(y).tickValues(isoYTicks).tickFormat(d3.format("d"))
    .tickSize(24).tickSizeOuter(0).tickPadding(opts.rPad), `translate(${box.r},0)`, 68);
  const plot = g.append("g");
  series.forEach(s => {
    drawSeries(plot, x, y, s.ads, s.st);
    drawSeries(plot, x, y, s.des, s.st);
  });
  labels.forEach(l => textLabel(g, x(l.x), y(l.y), l.t, l.c, 90, "middle"));
  return {g, x, y};
}

// ---- PSD panel ----
function psdPanel(box, series, labels, opts) {
  const g = svg.append("g");
  const x = d3.scaleLog().domain([0.3, 40]).range([box.l, box.r]);
  const y = d3.scaleLinear().domain([0, 0.25]).range([box.b, box.t]);
  const minorAx = addAxis(g, d3.axisBottom(x).tickValues(psdMinor).tickFormat("")
    .tickSize(14).tickSizeOuter(0), `translate(0,${box.b})`, 68);
  minorAx.selectAll(".tick text").remove();
  addAxis(g, d3.axisBottom(x).tickValues(psdMajor).tickFormat(d3.format("d"))
    .tickSize(24).tickSizeOuter(0).tickPadding(opts.xPad), `translate(0,${box.b})`, 68);
  addAxis(g, d3.axisLeft(y).tickValues(psdYTicks).tickFormat(d3.format(".2f"))
    .tickSize(24).tickSizeOuter(0).tickPadding(opts.lPad), `translate(${box.l},0)`, 68);
  const plot = g.append("g");
  series.forEach(s => drawSeries(plot, x, y, s.data, s.st));
  labels.forEach(l => textLabel(g, x(l.x), y(l.y), l.t, l.c, opts.labelSize, "start"));
  return {g, x, y};
}

const tri = d3.symbolTriangle, sq = d3.symbolSquare, dia = d3.symbolDiamond;

// (a)
const pa = isoPanel(boxA, [
  {ads: aGO100_ads, des: aGO100_des, st: {color: GREEN, lw: 6, shape: tri, size: 150}},
  {ads: aGO50_ads, des: aGO50_des, st: {color: RED, lw: 6, shape: tri, size: 150}},
  {ads: aGO200_ads, des: aGO200_des, st: {color: BLUE, lw: 6, shape: tri, size: 150}},
  {ads: aCA_ads, des: aCA_des, st: {color: BLACK, lw: 6, shape: tri, size: 150}}
], [
  {t: "CAGO100", c: GREEN, x: 0.646, y: 730},
  {t: "CAGO50", c: RED, x: 0.319, y: 429},
  {t: "CA", c: BLACK, x: 0.409, y: 338},
  {t: "CAGO200", c: BLUE, x: 0.753, y: 204}
], {xPad: 19, lPad: 14, rPad: 6});
yTitle(pa.g, 107, 828, 92, "Adsorbed volume [cm", ",STP/g]");
pTitle(pa.g, 882, 1650);
caption(853, 1766, "(a)");

// (c)
const pc = isoPanel(boxC, [
  {ads: cCNT50_ads, des: cCNT50_des, st: {color: RED, lw: 6, shape: tri, size: 150}},
  {ads: cCNT100_ads, des: cCNT100_des, st: {color: GREEN, lw: 6, shape: tri, size: 150, flip: true}},
  {ads: cCNT200_ads, des: cCNT200_des, st: {color: BLUE, lw: 6, shape: dia, size: 150}},
  {ads: cCA_ads, des: cCA_des, st: {color: BLACK, lw: 6, shape: sq, size: 180}}
], [
  {t: "CACNT50", c: RED, x: 0.785, y: 703},
  {t: "CA", c: BLACK, x: 0.105, y: 368},
  {t: "CACNT200", c: BLUE, x: 0.785, y: 165},
  {t: "CACNT100", c: GREEN, x: 0.252, y: 63}
], {xPad: 22, lPad: 0, rPad: 2});
arrow(pc.g, pc.x(0.089), pc.y(274), pc.x(0.089), pc.y(368));
yTitle(pc.g, 109, 2540, 92, "Adsorbed Volume [cm", ", STP/g]");
pTitle(pc.g, 894, 3431);
caption(853, 3533, "(c)");

// (b)
const pb = psdPanel(boxB, [
  {data: bGO100_co2, st: {color: GREEN, lw: 7, shape: tri, size: 160, open: true}},
  {data: bCA_co2, st: {color: BLACK, lw: 7, dash: "30,12", shape: tri, size: 160, open: true}},
  {data: bGO200_co2, st: {color: BLUE, lw: 7, dash: "30,12", shape: tri, size: 160, open: true}},
  {data: bGO50_co2, st: {color: RED, lw: 8, shape: tri, size: 160, open: true}},
  {data: bGO100_n2, st: {color: GREEN, lw: 6, dash: "45,12", shape: tri, size: 200}},
  {data: bCA_n2, st: {color: BLACK, lw: 6, dash: "30,12", shape: tri, size: 200}},
  {data: bGO200_n2, st: {color: BLUE, lw: 6, dash: "30,12", shape: tri, size: 200}},
  {data: bGO50_n2, st: {color: RED, lw: 6, shape: tri, size: 200}}
], [
  {t: "CAGO100", c: GREEN, x: 2.83, y: 0.2009},
  {t: "CAGO50", c: RED, x: 3.21, y: 0.153},
  {t: "CAGO200", c: BLUE, x: 3.80, y: 0.1036},
  {t: "CA", c: BLACK, x: 2.61, y: 0.0046}
], {xPad: 16, lPad: 13, labelSize: 84});
arrow(pb.g, pb.x(2.63), pb.y(0.0827), pb.x(5.27), pb.y(0.1021));
gasLabel(pb.g, pb.x(0.627), pb.y(0.2298), "CO", "2", 84);
gasLabel(pb.g, pb.x(10.26), pb.y(0.2298), "N", "2", 84);
yTitle(pb.g, 1932, 765, 77, "dV(d) [cm", "/nm/g]");
pb.g.append("text").attr("x", 2789).attr("y", 1638).attr("text-anchor", "middle")
  .attr("font-family", FONT).attr("font-weight", "bold").attr("font-size", 84).text("Pore width [nm]");
caption(2650, 1766, "(b)");

// (d)
const pd = psdPanel(boxD, [
  {data: dCA_co2, st: {color: BLACK, lw: 5, shape: sq, size: 300, open: true}},
  {data: dCNT50_co2, st: {color: RED, lw: 5, shape: tri, size: 170, open: true}},
  {data: dCNT100_co2, st: {color: GREEN, lw: 6, shape: tri, size: 170, open: true, flip: true}},
  {data: dCNT200_co2, st: {color: BLUE, lw: 6, shape: dia, size: 180, open: true}},
  {data: dCA_n2, st: {color: BLACK, lw: 8, shape: sq, size: 220}},
  {data: dCNT50_n2, st: {color: RED, lw: 6, shape: tri, size: 190}},
  {data: dCNT100_n2, st: {color: GREEN, lw: 7, shape: tri, size: 190, flip: true}},
  {data: dCNT200_n2, st: {color: BLUE, lw: 8, shape: dia, size: 190}}
], [
  {t: "CA", c: BLACK, x: 2.53, y: 0.1207},
  {t: "CACNT50", c: RED, x: 4.77, y: 0.1016},
  {t: "CACNT100", c: GREEN, x: 4.86, y: 0.0808},
  {t: "CACNT200", c: BLUE, x: 6.65, y: 0.0529}
], {xPad: 21, lPad: 18, labelSize: 90});
arrow(pd.g, pd.x(2.62), pd.y(0.0894), pd.x(4.76), pd.y(0.1035));
arrow(pd.g, pd.x(2.45), pd.y(0.0683), pd.x(4.97), pd.y(0.0817));
arrow(pd.g, pd.x(4.77), pd.y(0.032), pd.x(6.87), pd.y(0.0526));
gasLabel(pd.g, pd.x(0.44), pd.y(0.199), "CO", "2", 84);
gasLabel(pd.g, pd.x(3.39), pd.y(0.199), "N", "2", 84);
yTitle(pd.g, 1937, 2540, 82, "dV(d) [cm", "/nm/g]");
pd.g.append("text").attr("x", 2790).attr("y", 3426).attr("text-anchor", "middle")
  .attr("font-family", FONT).attr("font-weight", "bold").attr("font-size", 90).text("Pore width [nm]");
caption(2650, 3533, "(d)");
</script>
</body>
</html>
